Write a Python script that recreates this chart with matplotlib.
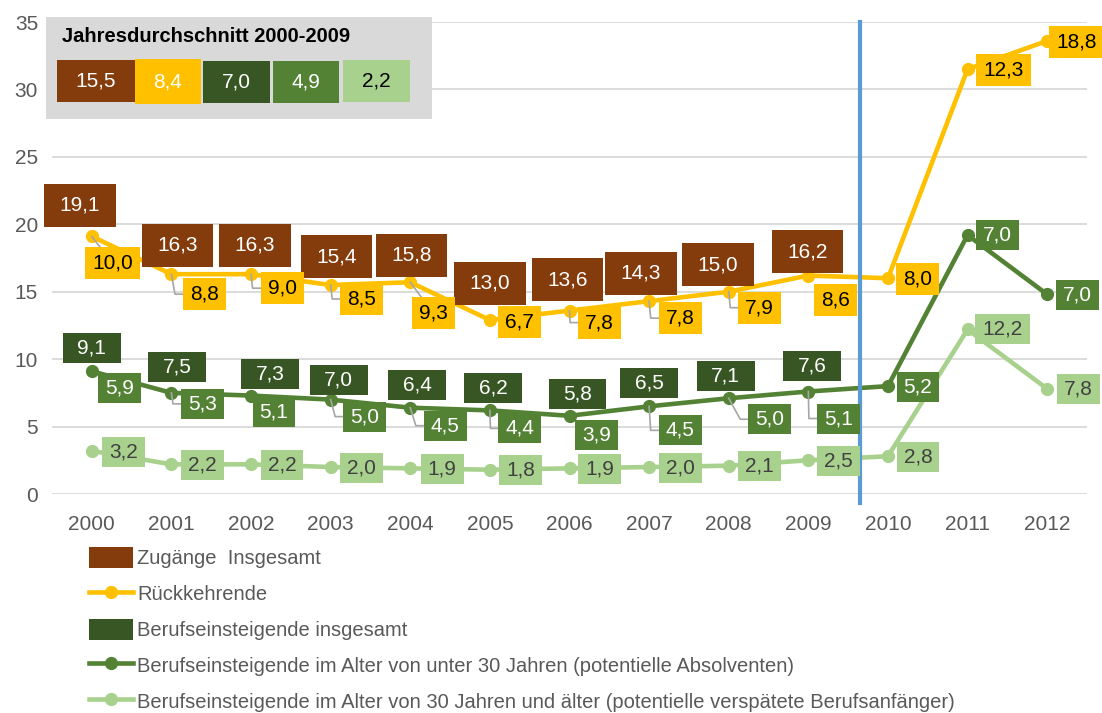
import numpy as np
import matplotlib.pyplot as plt
from matplotlib.patches import Rectangle, Patch
from matplotlib.lines import Line2D

plt.rcParams['font.family'] = ['Liberation Sans', 'DejaVu Sans']

# data (Zugänge, Jahresdurchschnitt in Tausend)
years = ['2000', '2001', '2002', '2003', '2004', '2005', '2006',
         '2007', '2008', '2009', '2010', '2011', '2012']
zugaenge = [19.1, 16.3, 16.3, 15.4, 15.8, 13.0, 13.6, 14.3, 15.0, 16.2]
rueckkehrende = [10.0, 8.8, 9.0, 8.5, 9.3, 6.7, 7.8, 7.8, 7.9, 8.6, 8.0, 12.3, 18.8]
einsteiger_gesamt = [9.1, 7.5, 7.3, 7.0, 6.4, 6.2, 5.8, 6.5, 7.1, 7.6]
einsteiger_u30 = [5.9, 5.3, 5.1, 5.0, 4.5, 4.4, 3.9, 4.5, 5.0, 5.1, 5.2, 7.0, 7.0]
einsteiger_ab30 = [3.2, 2.2, 2.2, 2.0, 1.9, 1.8, 1.9, 2.0, 2.1, 2.5, 2.8, 12.2, 7.8]
avg_title = 'Jahresdurchschnitt 2000-2009'
avg_values = [15.5, 8.4, 7.0, 4.9, 2.2]

legend_labels = ['Zugänge  Insgesamt', 'Rückkehrende', 'Berufseinsteigende insgesamt',
                 'Berufseinsteigende im Alter von unter 30 Jahren (potentielle Absolventen)',
                 'Berufseinsteigende im Alter von 30 Jahren und älter (potentielle verspätete Berufsanfänger)']

BROWN = '#843C0C'
YELLOW = '#FFC000'
DGREEN = '#375623'
MGREEN = '#548235'
LGREEN = '#A9D18E'
GREY_TXT = '#595959'
FS = 15

# label offsets in pixels (dx right, dy down) relative to the point
off_brown = [(-12, -31), (6, -29), (4, -29), (6, -28), (1, -27), (0, -37),
             (-2, -31), (-8, -28), (-11, -27), (-1, -24)]
off_yellow = [(21, 27), (33, 20), (31, 14), (31, 14), (23, 31), (30, 2), (30, 12),
              (31, 17), (31, 16), (27, 24), (30, 1), (36, 1), (29, 1)]
lead_yellow = [1, 1, 1, 1, 1, 0, 1, 1, 1, 0, 0, 0, 0]
off_dgreen = [(0, -23), (6, -26), (19, -22), (8, -20), (7, -23), (3, -22),
              (8, -22), (0, -23), (-3, -22), (4, -26)]
off_mgreen = [(28, 17), (31, 11), (23, 16), (34, 17), (35, 18), (30, 18), (27, 19),
              (31, 24), (41, 21), (30, 27), (30, 1), (30, 0), (30, 1)]
lead_mgreen = [0, 1, 0, 1, 1, 1, 0, 1, 1, 1, 0, 0, 0]
off_lgreen = [(32, 1), (31, 1), (31, 1), (31, 1), (32, 1), (31, 0), (30, 1),
              (31, 1), (31, 0), (30, 1), (30, 1), (35, 0), (31, 0)]

W, H = 1102, 713
fig = plt.figure(figsize=(W / 100, H / 100), dpi=100)
ax = fig.add_axes([52 / W, 1 - 494 / H, (1087 - 52) / W, (494 - 22) / H])
x = np.arange(len(years))
ax.set_xlim(-0.5, len(years) - 0.5)
ax.set_ylim(0, 35)
ax.set_yticks(range(0, 36, 5))
ax.set_xticks(x, years)
ax.grid(axis='y', color='#D9D9D9', lw=1.3)
ax.set_axisbelow(True)
for s in ax.spines.values():
    s.set_visible(False)
ax.tick_params(length=0, labelsize=FS, labelcolor=GREY_TXT)
ax.tick_params(axis='y', pad=10)
ax.tick_params(axis='x', pad=15)

# stacked lines
stack = np.cumsum([einsteiger_ab30, einsteiger_u30, rueckkehrende], axis=0)
for row, col in zip([2, 1, 0], [YELLOW, MGREEN, LGREEN]):
    ax.plot(x, stack[row], color=col, lw=3.3, marker='o', ms=8.5, zorder=3, clip_on=False)

# divider between 2009 and 2010
ax.plot([9.65, 9.65], [-0.67, 35], color='#5B9BD5', lw=3, zorder=7, clip_on=False)

renderer = fig.canvas.get_renderer()
inv = ax.transData.inverted()


def fmt(v):
    return f'{v:.1f}'.replace('.', ',')


def draw_label(xi, yi, value, off, face, tcol, padx, h, leader=False):
    px, py = ax.transData.transform((xi, yi))
    cx, cy = px + off[0], py - off[1]
    tx, ty = inv.transform((cx, cy))
    t = ax.text(tx, ty, fmt(value), ha='center', va='center', color=tcol,
                fontsize=FS, zorder=9, clip_on=False)
    w = t.get_window_extent(renderer).width + 2 * padx
    x0, y0 = inv.transform((cx - w / 2, cy - h / 2))
    x1, y1 = inv.transform((cx + w / 2, cy + h / 2))
    ax.add_patch(Rectangle((x0, y0), x1 - x0, y1 - y0, facecolor=face,
                           edgecolor='none', zorder=8, clip_on=False))
    if leader:
        left = cx - w / 2
        if left - px > 5:
            pts = [(px, py), (max(px, left - 8), cy), (left, cy)]
        else:
            pts = [(px, py), (cx, cy)]
        d = inv.transform(pts)
        ax.plot(d[:, 0], d[:, 1], color='#A6A6A6', lw=1.2, zorder=4, clip_on=False)


for i, v in enumerate(zugaenge):
    draw_label(i, stack[2][i], v, off_brown[i], BROWN, 'white', 15.5, 43)
for i, v in enumerate(rueckkehrende):
    draw_label(i, stack[2][i], v, off_yellow[i], YELLOW, 'black', 7, 32, lead_yellow[i])
for i, v in enumerate(einsteiger_gesamt):
    draw_label(i, stack[1][i], v, off_dgreen[i], DGREEN, 'white', 14.5, 30)
for i, v in enumerate(einsteiger_u30):
    draw_label(i, stack[1][i], v, off_mgreen[i], MGREEN, 'white', 7, 30, lead_mgreen[i])
for i, v in enumerate(einsteiger_ab30):
    draw_label(i, stack[0][i], v, off_lgreen[i], LGREEN, '#404040', 7, 30)


# average table (top left)
def fx(px):
    return px / W


def fy(py):
    return 1 - py / H


fig.add_artist(Rectangle((fx(46), fy(119)), fx(432) - fx(46), fy(17) - fy(119),
                         transform=fig.transFigure, facecolor='#D9D9D9',
                         edgecolor='none', zorder=10))
fig.text(fx(62), fy(37), avg_title, fontsize=14.5, fontweight='bold',
         color='black', va='center', ha='left', zorder=11)
cell_edges = [(57, 135, 60, 102), (135, 201, 59, 104), (203, 270, 61, 103),
              (273, 339, 61, 103), (343, 410, 60, 102)]
cell_colors = [BROWN, YELLOW, DGREEN, MGREEN, LGREEN]
cell_text = ['white', 'white', 'white', 'white', 'black']
for (l, r, t, b), v, c, tc in zip(cell_edges, avg_values, cell_colors, cell_text):
    fig.add_artist(Rectangle((fx(l), fy(b)), fx(r) - fx(l), fy(t) - fy(b),
                             transform=fig.transFigure, facecolor=c,
                             edgecolor='none', zorder=11))
    fig.text(fx((l + r) / 2), fy((t + b) / 2), fmt(v), fontsize=FS, color=tc,
             ha='center', va='center', zorder=12)

# legend
handles = [Patch(facecolor=BROWN),
           Line2D([], [], color=YELLOW, lw=3.3, marker='o', ms=8.5),
           Patch(facecolor=DGREEN),
           Line2D([], [], color=MGREEN, lw=3.3, marker='o', ms=8.5),
           Line2D([], [], color=LGREEN, lw=3.3, marker='o', ms=8.5)]
leg = fig.legend(handles, legend_labels, loc='upper left',
                 bbox_to_anchor=(fx(89), fy(547)), frameon=False, fontsize=14.5,
                 handlelength=2.2, handleheight=1.25, handletextpad=0.2,
                 labelspacing=0.72, borderpad=0, borderaxespad=0)
for t in leg.get_texts():
    t.set_color(GREY_TXT)

fig.savefig('out.png', dpi=100)
